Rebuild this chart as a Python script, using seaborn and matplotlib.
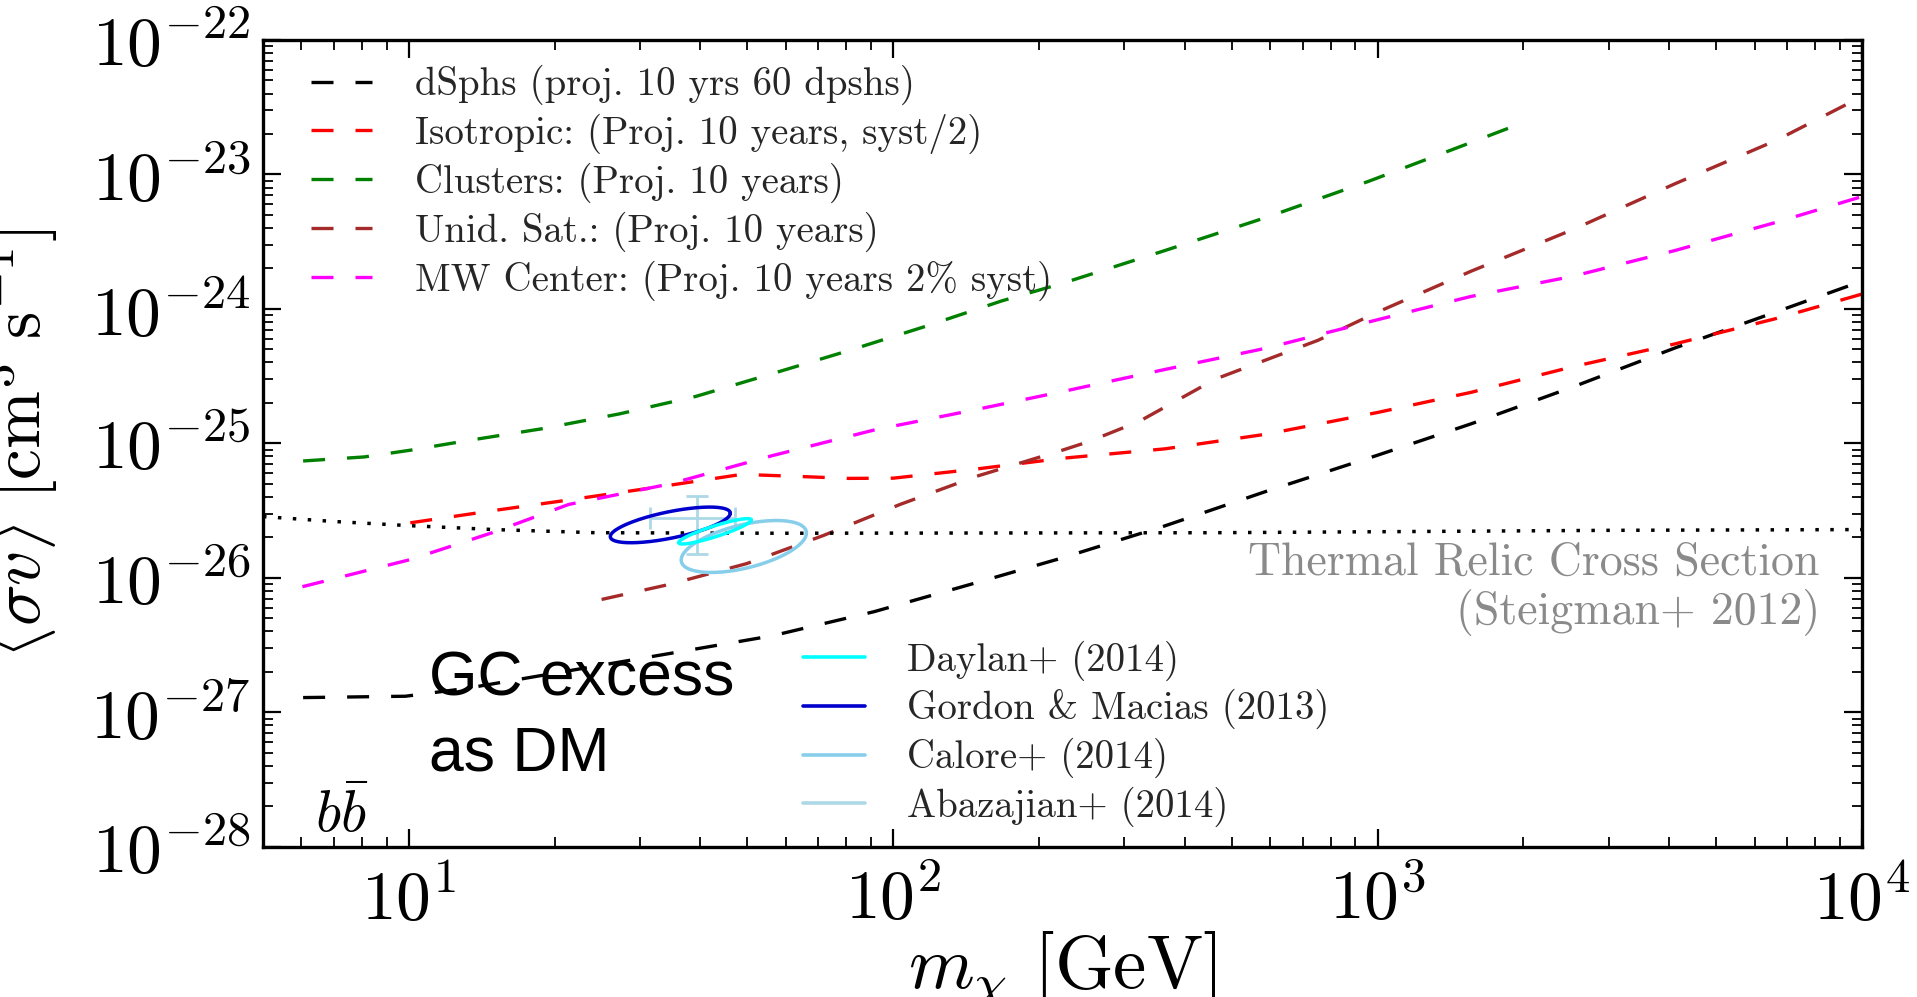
import numpy as np
import pandas as pd
import matplotlib
matplotlib.use("Agg")
import matplotlib.pyplot as plt
import seaborn as sns
from matplotlib.lines import Line2D
from matplotlib.ticker import LogLocator, NullFormatter

# ---------------- data ----------------
clusters_m = [6.05, 8.09, 10.07, 13.15, 18.92, 27.23, 39.17, 56.36, 80.91, 116.4, 167.5, 223.4, 363.9, 591.6, 959.4, 1560, 2009]
clusters_sv = [7.41e-26, 7.94e-26, 8.91e-26, 1.047e-25, 1.29e-25, 1.66e-25, 2.24e-25, 3.31e-25, 4.90e-25, 7.41e-25,
               1.148e-24, 1.55e-24, 2.72e-24, 4.82e-24, 8.91e-24, 1.73e-23, 2.45e-23]

iso_m = [10.07, 14.86, 21.38, 34.67, 48.64, 63.53, 80.91, 100, 148.6, 223.4, 363.9, 591.6, 1000, 1560, 2529, 4111, 6668, 10000]
iso_sv = [2.57e-26, 3.16e-26, 3.80e-26, 4.90e-26, 5.89e-26, 5.69e-26, 5.50e-26, 5.52e-26, 6.46e-26, 7.76e-26, 9.12e-26,
          1.175e-25, 1.70e-25, 2.40e-25, 3.72e-25, 5.50e-25, 8.51e-25, 1.29e-24]

dsph_m = [6.05, 9.84, 13.15, 21.38, 34.67, 56.36, 91.41, 148.6, 223.4, 363.9, 591.6, 1000, 1560, 2529, 4111, 6668, 10000]
dsph_sv = [1.29e-27, 1.32e-27, 1.51e-27, 2.04e-27, 2.75e-27, 3.72e-27, 5.62e-27, 9.23e-27, 1.41e-26, 2.44e-26, 4.43e-26,
           8.18e-26, 1.40e-25, 2.63e-25, 5.13e-25, 9.55e-25, 1.61e-24]

mw_m = [6.03, 10.07, 14.86, 21.38, 34.67, 56.36, 91.41, 148.6, 223.4, 363.9, 591.6, 1000, 1560, 2529, 4111, 6668, 10000]
mw_sv = [8.61e-27, 1.37e-26, 2.17e-26, 3.52e-26, 5.01e-26, 8.13e-26, 1.26e-25, 1.79e-25, 2.43e-25, 3.55e-25, 5.13e-25,
         8.32e-25, 1.24e-24, 1.75e-24, 2.72e-24, 4.42e-24, 6.85e-24]

unid_m = [25.0, 34.67, 49.89, 71.78, 103.3, 148.6, 223.4, 252.9, 322.1, 463.4, 753.4, 1000, 1560, 2529, 4111, 6668, 10000]
unid_sv = [6.92e-27, 8.99e-27, 1.28e-26, 2.07e-26, 3.52e-26, 5.70e-26, 8.91e-26, 1.03e-25, 1.46e-25, 3.02e-25, 5.85e-25,
           9.48e-25, 1.91e-24, 3.89e-24, 8.53e-24, 1.80e-23, 3.80e-23]

thermal_m = [5, 7, 10, 15, 24.3, 58, 460, 3000, 10000]
thermal_sv = [2.86e-26, 2.63e-26, 2.45e-26, 2.29e-26, 2.17e-26, 2.15e-26, 2.17e-26, 2.26e-26, 2.29e-26]

# GC-excess contours: mass range of the long axis, <sigma v> at its two ends, half-width (dex)
gordon_m = [26.06, 46.1]
gordon_sv = [2.03e-26, 3.03e-26]
gordon_w = 0.10
daylan_m = [36.06, 50.93]
daylan_sv = [1.83e-26, 2.70e-26]
daylan_w = 0.042
calore_m = [36.5, 66.2]
calore_sv = [1.36e-26, 2.16e-26]
calore_w = 0.165

# Abazajian+ (2014) point with errors
aba_m = [39.4]
aba_m_lo = [31.4]
aba_m_hi = [47.2]
aba_sv = [2.78e-26]
aba_sv_lo = [1.50e-26]
aba_sv_hi = [4.09e-26]

proj_labels = ["dSphs (proj. 10 yrs 60 dpshs)",
               "Isotropic: (Proj. 10 years, syst/2)",
               "Clusters: (Proj. 10 years)",
               "Unid. Sat.: (Proj. 10 years)",
               "MW Center: (Proj. 10 years 2% syst)"]
gc_labels = ["Daylan+ (2014)", "Gordon & Macias (2013)", "Calore+ (2014)", "Abazajian+ (2014)"]

# ---------------- style ----------------
sns.set_style("ticks")
plt.rcParams['font.family'] = ['cmr10', 'DejaVu Serif']
plt.rcParams['mathtext.fontset'] = 'cm'
plt.rcParams['axes.formatter.use_mathtext'] = True

fig = plt.figure(figsize=(19.17, 9.97), dpi=100)
ax = fig.add_axes([0.1372, 0.1505, 0.8341, 0.8094])

dash = (0, (6.6, 6.6))
lw = 2.4
curves = [(dsph_m, dsph_sv, "black"),
          (iso_m, iso_sv, "red"),
          (clusters_m, clusters_sv, "green"),
          (unid_m, unid_sv, "brown"),
          (mw_m, mw_sv, "magenta")]
for m, sv, c in curves:
    sns.lineplot(x=m, y=sv, ax=ax, color=c, lw=lw, linestyle=dash, sort=False, estimator=None, legend=False)

sns.lineplot(x=thermal_m, y=thermal_sv, ax=ax, color="black", lw=2.5, linestyle=(0, (1, 3.3)),
             sort=False, estimator=None, legend=False)

def ellipse(mr, svr, w):
    t = np.linspace(0, 2 * np.pi, 300)
    lx = np.log10(mr)
    ly = np.log10(svr)
    cx, hx = lx.mean(), (lx[1] - lx[0]) / 2
    cy, hy = ly.mean(), (ly[1] - ly[0]) / 2
    return 10 ** (cx + hx * np.cos(t)), 10 ** (cy + hy * np.cos(t) + w * np.sin(t))

gc_colors = ["cyan", "mediumblue", "skyblue", "lightblue"]
ax.errorbar(aba_m, aba_sv,
            xerr=[np.array(aba_m) - np.array(aba_m_lo), np.array(aba_m_hi) - np.array(aba_m)],
            yerr=[np.array(aba_sv) - np.array(aba_sv_lo), np.array(aba_sv_hi) - np.array(aba_sv)],
            fmt='none', ecolor=gc_colors[3], elinewidth=2.0, capsize=8, capthick=2.0)
for (mr, svr, w), c in zip([(calore_m, calore_sv, calore_w), (gordon_m, gordon_sv, gordon_w),
                            (daylan_m, daylan_sv, daylan_w)], [gc_colors[2], gc_colors[1], gc_colors[0]]):
    ex, ey = ellipse(np.array(mr), np.array(svr), w)
    sns.lineplot(x=ex, y=ey, ax=ax, color=c, lw=2.5, sort=False, estimator=None, legend=False)

ax.set_xscale('log')
ax.set_yscale('log')
ax.set_xlim(5, 1e4)
ax.set_ylim(1e-28, 1e-22)

ax.xaxis.set_major_locator(LogLocator(base=10, subs=(1.0,), numticks=20))
ax.yaxis.set_major_locator(LogLocator(base=10, subs=(1.0,), numticks=20))
ax.xaxis.set_minor_locator(LogLocator(base=10, subs=np.arange(2, 10), numticks=20))
ax.yaxis.set_minor_locator(LogLocator(base=10, subs=np.arange(2, 10), numticks=20))
ax.xaxis.set_minor_formatter(NullFormatter())
ax.yaxis.set_minor_formatter(NullFormatter())

ax.tick_params(which='both', direction='in', top=True, right=True, color='black', labelsize=50, labelcolor='black')
ax.tick_params(which='major', length=13, width=1.6)
ax.tick_params(which='minor', length=7, width=1.3)
ax.tick_params(axis='x', which='major', pad=14)
ax.tick_params(axis='y', which='major', pad=9)
for s in ax.spines.values():
    s.set_color('black')
    s.set_linewidth(2.4)

ax.set_xlabel(r'$m_\chi\ [\mathrm{GeV}]$', fontsize=54, color='black')
ax.xaxis.set_label_coords(0.5, -0.103)
ax.set_ylabel(r'$\langle \sigma v\rangle\ [\mathrm{cm}^3\ \mathrm{s}^{-1}]$', fontsize=50, color='black')
ax.yaxis.set_label_coords(-0.127, 0.5)

# legends
h1 = [Line2D([], [], color=c, lw=lw, linestyle=dash) for _, _, c in curves]
leg1 = ax.legend(h1, proj_labels, loc='upper left', bbox_to_anchor=(0.030, 0.969), frameon=False,
                 fontsize=28, handlelength=1.57, handletextpad=1.1, labelspacing=0.22,
                 borderpad=0, borderaxespad=0)
ax.add_artist(leg1)
h2 = [Line2D([], [], color=c, lw=2.6) for c in gc_colors]
ax.legend(h2, gc_labels, loc='upper left', bbox_to_anchor=(0.338, 0.256), frameon=False,
          fontsize=28, handlelength=1.57, handletextpad=1.1, labelspacing=0.22,
          borderpad=0, borderaxespad=0)

# annotations
ax.text(0.9737, 0.337, "Thermal Relic Cross Section", transform=ax.transAxes, ha='right', va='baseline',
        fontsize=33, color='#8a8a8a')
ax.text(0.9737, 0.2763, "(Steigman+ 2012)", transform=ax.transAxes, ha='right', va='baseline',
        fontsize=33, color='#8a8a8a')
ax.text(0.1038, 0.1871, "GC excess", transform=ax.transAxes, ha='left', va='baseline',
        fontsize=45, family=['Liberation Sans', 'DejaVu Sans'], color='black')
ax.text(0.1038, 0.0942, "as DM", transform=ax.transAxes, ha='left', va='baseline',
        fontsize=45, family=['Liberation Sans', 'DejaVu Sans'], color='black')
ax.text(0.0328, 0.018, r'$b\bar{b}$', transform=ax.transAxes, ha='left', va='baseline',
        fontsize=42, color='black')

fig.savefig("out.png", dpi=100)
